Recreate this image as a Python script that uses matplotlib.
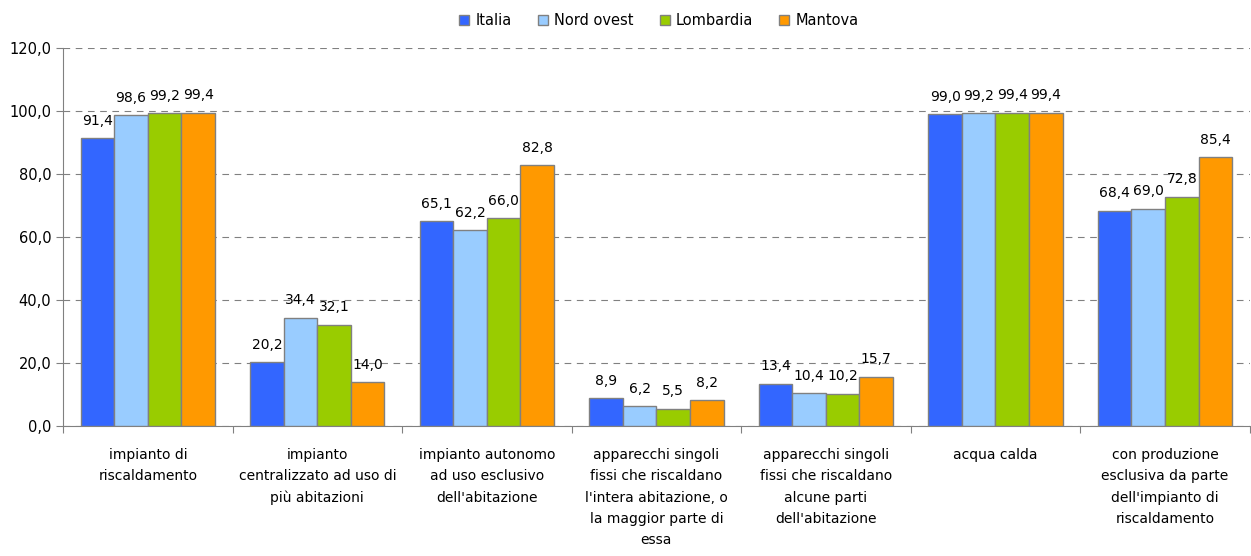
import numpy as np
import matplotlib.pyplot as plt

categories = [
    "impianto di\nriscaldamento",
    "impianto\ncentralizzato ad uso di\npiù abitazioni",
    "impianto autonomo\nad uso esclusivo\ndell'abitazione",
    "apparecchi singoli\nfissi che riscaldano\nl'intera abitazione, o\nla maggior parte di\nessa",
    "apparecchi singoli\nfissi che riscaldano\nalcune parti\ndell'abitazione",
    "acqua calda",
    "con produzione\nesclusiva da parte\ndell'impianto di\nriscaldamento",
]
series_names = ["Italia", "Nord ovest", "Lombardia", "Mantova"]
italia = [91.4, 20.2, 65.1, 8.9, 13.4, 99.0, 68.4]
nord_ovest = [98.6, 34.4, 62.2, 6.2, 10.4, 99.2, 69.0]
lombardia = [99.2, 32.1, 66.0, 5.5, 10.2, 99.4, 72.8]
mantova = [99.4, 14.0, 82.8, 8.2, 15.7, 99.4, 85.4]
colors = ["#3366FF", "#99CCFF", "#99CC00", "#FF9900"]

plt.rcParams["font.family"] = ["DejaVu Sans"]

fig = plt.figure(figsize=(12.51, 5.56), dpi=100)
ax = fig.add_axes([0.0504, 0.2338, 0.9486, 0.68])

x = np.arange(len(categories))
w = 0.198
for i, (name, vals, c) in enumerate(zip(series_names, [italia, nord_ovest, lombardia, mantova], colors)):
    pos = x + (i - 1.5) * w
    bars = ax.bar(pos, vals, w, color=c, edgecolor="#808080", linewidth=1, label=name, zorder=3)
    for b, v in zip(bars, vals):
        ax.text(b.get_x() + b.get_width() / 2, v + 3.3, f"{v:.1f}".replace(".", ","),
                ha="center", va="bottom", fontsize=10)

ax.set_xlim(-0.5, len(categories) - 0.5)
ax.set_ylim(0, 120)
ax.set_yticks(np.arange(0, 121, 20))
ax.set_yticklabels([f"{v:.1f}".replace(".", ",") for v in np.arange(0, 121, 20)], fontsize=10.5)
ax.yaxis.grid(True, linestyle=(0, (6, 5)), color="#808080", linewidth=0.8, zorder=0)
ax.tick_params(axis="y", length=5, color="#808080")

ax.set_xticks(np.arange(len(categories) + 1) - 0.5)
ax.set_xticklabels([])
ax.set_xticks(x, minor=True)
ax.set_xticklabels(categories, minor=True, fontsize=10, linespacing=1.65)
ax.tick_params(axis="x", which="minor", length=0, pad=16)
ax.tick_params(axis="x", which="major", length=5, color="#808080", direction="out")

for s in ["top", "right"]:
    ax.spines[s].set_visible(False)
for s in ["left", "bottom"]:
    ax.spines[s].set_color("#808080")

ax.legend(loc="upper center", bbox_to_anchor=(0.502, 1.126), ncol=4, frameon=False,
          fontsize=10.5, handlelength=0.7, handleheight=0.7, handletextpad=0.4, columnspacing=1.8)

fig.savefig("out.png", dpi=100)
